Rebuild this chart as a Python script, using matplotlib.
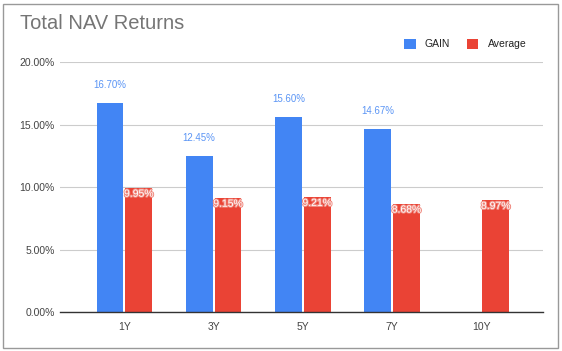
import numpy as np
import matplotlib.pyplot as plt
from matplotlib.patches import Rectangle
import matplotlib.patheffects as pe

plt.rcParams["font.family"] = ["Liberation Sans", "DejaVu Sans"]

categories = ["1Y", "3Y", "5Y", "7Y", "10Y"]
gain = [16.70, 12.45, 15.60, 14.67, np.nan]
average = [9.95, 9.15, 9.21, 8.68, 8.97]

blue = "#4285F4"
red = "#EA4335"

fig = plt.figure(figsize=(5.62, 3.51), dpi=100)
ax = fig.add_axes([0.107, 0.111, 0.859, 0.712])

x = np.arange(len(categories))
w = 0.30
off = 0.162

b1 = ax.bar(x - off, np.array(gain) / 100, width=w, color=blue, label="GAIN", zorder=3)
b2 = ax.bar(x + off, np.array(average) / 100, width=w, color=red, label="Average", zorder=3)

# labels above blue bars
for xi, v in zip(x, gain):
    if np.isnan(v):
        continue
    ax.text(xi - off, v / 100 + 0.0105, f"{v:.2f}%", ha="center", va="bottom",
            fontsize=7, color="#5b95f5", zorder=4)

# labels inside red bars
for xi, v in zip(x, average):
    t = ax.text(xi + off, v / 100 - 0.0008, f"{v:.2f}%", ha="center", va="top",
                fontsize=7.5, color="white", zorder=4)
    t.set_path_effects([pe.withStroke(linewidth=1.4, foreground="#f08a80")])

ax.set_xlim(-0.72, 4.69)
ax.set_ylim(0, 0.20)
ax.set_yticks([0, 0.05, 0.10, 0.15, 0.20])
ax.set_yticklabels(["0.00%", "5.00%", "10.00%", "15.00%", "20.00%"])
ax.set_xticks(x)
ax.set_xticklabels(categories)
ax.tick_params(axis="both", length=0, labelsize=7.5, colors="#444444")
ax.tick_params(axis="x", pad=7)
ax.tick_params(axis="y", pad=4)

ax.grid(axis="y", color="#cccccc", linewidth=0.8, zorder=0)
for s in ["top", "right", "left"]:
    ax.spines[s].set_visible(False)
ax.spines["bottom"].set_color("#333333")
ax.spines["bottom"].set_linewidth(1.0)
ax.spines["bottom"].set_zorder(5)

fig.text(20 / 562, 1 - 23.5 / 351, "Total NAV Returns", fontsize=14.5, color="#757575",
         ha="left", va="center")

leg = fig.legend(handles=[b1, b2], labels=["GAIN", "Average"], loc="center right",
                 bbox_to_anchor=(536 / 562, 1 - 44 / 351), ncol=2, frameon=False,
                 fontsize=7.5, handlelength=1.1, handleheight=1.1,
                 handletextpad=0.9, columnspacing=1.6)
for t in leg.get_texts():
    t.set_color("#222222")

fig.patches.append(Rectangle((3 / 562, 3 / 351), 555 / 562, 344 / 351,
                             transform=fig.transFigure, fill=False,
                             edgecolor="#999999", linewidth=1.0))

fig.savefig("out.png", dpi=100)
